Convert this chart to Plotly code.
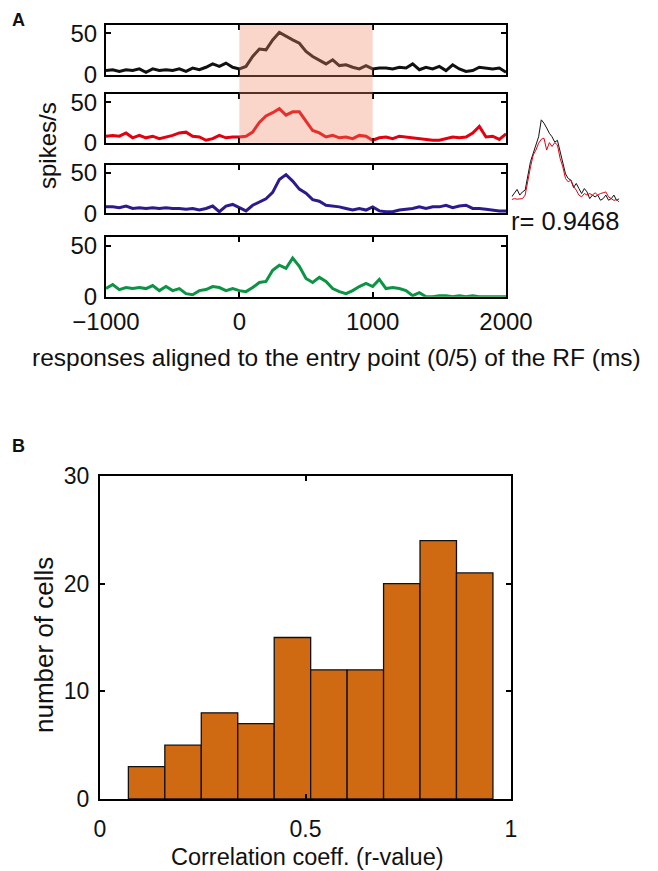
import plotly.graph_objects as go

# ---------------- data ----------------
time_ms = list(range(-1000, 2001, 50))

rate_black = [5, 6, 4, 6, 5, 7, 3, 7, 5, 6, 5, 7, 4, 8, 6, 9, 13, 10, 14, 9,
              7, 10, 22, 31, 30, 42, 51, 46, 42, 38, 28, 22, 17, 13, 18, 11, 12, 9, 7, 11,
              7, 8, 8, 7, 9, 8, 13, 6, 9, 7, 10, 5, 12, 7, 4, 5, 9, 8, 7, 8, 3]
rate_red = [8, 9, 8, 12, 6, 9, 6, 8, 5, 7, 9, 12, 13, 8, 7, 3, 5, 9, 6, 7,
            7, 8, 13, 25, 33, 37, 42, 34, 38, 38, 26, 15, 12, 7, 9, 6, 7, 5, 9, 8,
            3, 6, 7, 5, 8, 7, 6, 5, 4, 3, 3, 5, 7, 6, 7, 12, 20, 7, 8, 4, 11]
rate_blue = [8, 8, 7, 9, 6, 7, 6, 7, 6, 7, 6, 6, 5, 6, 4, 6, 9, 2, 9, 11,
             7, 3, 10, 14, 18, 26, 42, 48, 40, 30, 25, 17, 15, 10, 9, 8, 6, 4, 6, 4,
             8, 3, 2, 2, 4, 5, 6, 8, 6, 8, 8, 10, 7, 9, 10, 6, 6, 5, 4, 3, 3]
rate_green = [8, 12, 7, 9, 8, 9, 8, 11, 6, 10, 6, 8, 3, 2, 6, 7, 10, 9, 6, 8,
              6, 5, 9, 14, 15, 26, 31, 28, 38, 30, 18, 14, 19, 15, 8, 5, 3, 6, 10, 13,
              10, 17, 8, 9, 8, 6, 1, 4, 0, 0, 1, 1, 0, 1, 0, 1, 0, 0, 0, 0, 0]

inset_time = list(range(0, 1001, 25))
inset_black = [8, 9.9, 12.2, 9, 10.8, 11.8, 21, 28, 32.7, 37.4, 42, 51.6, 49.7, 47, 44, 42,
               39, 40, 33.6, 28, 21, 18.4, 17.5, 13.3, 15.6, 12.7, 9.9, 12.7, 10.8, 7, 9,
               8, 9, 6.1, 7, 9, 6.1, 7, 9, 6, 7]
inset_red = [6.5, 7, 6.7, 7, 7, 9, 17.5, 25, 31.7, 34.5, 38.4, 40.6, 41.2, 34.5, 38.7, 36.5,
             38.7, 37.4, 29.8, 25, 18.4, 16.5, 17.5, 14, 11.8, 9, 8, 9.9, 9, 9.9, 9,
             10.3, 9, 9.9, 10.3, 10.8, 8, 7, 6, 6.5, 5]
r_value_text = "r= 0.9468"

bin_centers = [0.1134, 0.2021, 0.2908, 0.3795, 0.4682, 0.5569, 0.6456, 0.7343, 0.8230, 0.9117]
bin_width = 0.0887
cell_counts = [3, 5, 8, 7, 15, 12, 12, 20, 24, 21]

x_ticks_A = [-1000, 0, 1000, 2000]
y_ticks_A = [0, 50]
x_ticks_B = [0, 0.5, 1]
y_ticks_B = [0, 10, 20, 30]

# ---------------- layout helpers ----------------
OFF = 8                      # page body margin of the browser
W, H = 658 - OFF, 871 - OFF  # figure size
FONT = "Arial, Liberation Sans, sans-serif"


def px(x):
    return (x - OFF) / W


def py(y):
    return 1 - (y - OFF) / H


def xd(a, b):
    return [px(a), px(b)]


def yd(top, bottom):
    return [py(bottom), py(top)]


fig = go.Figure()

series = [(rate_black, "#111111"), (rate_red, "#E3000F"),
          (rate_blue, "#2B1B8C"), (rate_green, "#0B9444")]
ydoms = [yd(25, 74.7), yd(94, 142.7), yd(165, 213.3), yd(237.3, 296.7)]
yranges = [[0, 60], [0, 60], [0, 60], [0, 58.5]]

axis_common = dict(showline=True, linecolor="black", linewidth=2, mirror="allticks",
                   ticks="inside", ticklen=5, tickwidth=1.5, tickcolor="black",
                   showgrid=False, zeroline=False, automargin=False,
                   tickfont=dict(family=FONT, size=24, color="#111"))

for i, (vals, col) in enumerate(series):
    n = i + 1
    fig.add_trace(go.Scatter(x=time_ms, y=vals, mode="lines",
                             line=dict(color=col, width=3), showlegend=False,
                             xaxis=f"x{n}" if n > 1 else "x", yaxis=f"y{n}" if n > 1 else "y"))
    xa = dict(axis_common, domain=xd(106, 506), range=[-1000, 2000], tickvals=x_ticks_A,
              showticklabels=(n == 4), anchor=f"y{n}" if n > 1 else "y", ticklabelstandoff=2)
    ya = dict(axis_common, domain=ydoms[i], range=yranges[i], tickvals=y_ticks_A,
              anchor=f"x{n}" if n > 1 else "x", ticklabelstandoff=2)
    fig.update_layout(**{("xaxis" if n == 1 else f"xaxis{n}"): xa,
                         ("yaxis" if n == 1 else f"yaxis{n}"): ya})

# inset
fig.add_trace(go.Scatter(x=inset_time, y=inset_black, mode="lines",
                         line=dict(color="#111111", width=1), showlegend=False,
                         xaxis="x5", yaxis="y5"))
fig.add_trace(go.Scatter(x=inset_time, y=inset_red, mode="lines",
                         line=dict(color="#E3000F", width=1), showlegend=False,
                         xaxis="x5", yaxis="y5"))
fig.update_layout(
    xaxis5=dict(domain=xd(511.7, 619.3), range=[0, 1000], visible=False, anchor="y5",
                automargin=False),
    yaxis5=dict(domain=yd(105, 211), range=[0, 60], visible=False, anchor="x5",
                automargin=False),
)

# histogram panel B
fig.add_trace(go.Bar(x=bin_centers, y=cell_counts, width=bin_width,
                     marker=dict(color="#CF6A13", line=dict(color="#111111", width=1.3)),
                     showlegend=False, xaxis="x6", yaxis="y6"))
axis_B = dict(axis_common, tickfont=dict(family=FONT, size=23, color="#111"))
fig.update_layout(
    xaxis6=dict(axis_B, domain=xd(100, 511), range=[0, 1], tickvals=x_ticks_B,
                ticktext=["0", "0.5", "1"], anchor="y6", ticklabelstandoff=8),
    yaxis6=dict(axis_B, domain=yd(476, 799), range=[0, 30], tickvals=y_ticks_B,
                anchor="x6", ticklabelstandoff=4),
)

# shaded window over first two panels
fig.add_shape(type="rect", xref="x", yref="paper", x0=0, x1=1000,
              y0=py(142.7), y1=py(25),
              fillcolor="rgba(240,135,100,0.35)", line=dict(width=0), layer="above")


def ann(text, x, y, size, bold=False, angle=0):
    fig.add_annotation(text=f"<b>{text}</b>" if bold else text, x=px(x), y=py(y),
                       xref="paper", yref="paper", showarrow=False, textangle=angle,
                       xanchor="center", yanchor="middle",
                       font=dict(family=FONT, size=size, color="#111"))


ann("A", 18.5, 20, 18, bold=True)
ann("B", 18.5, 446, 18, bold=True)
ann("spikes/s", 47, 146, 24, angle=-90)
ann(r_value_text, 565, 221, 25.5)
ann("responses aligned to the entry point (0/5) of the RF (ms)", 336, 357, 24.5)
ann("number of cells", 44, 645, 26, angle=-90)
ann("Correlation coeff. (r-value)", 307, 857, 23.5)

fig.update_layout(width=W, height=H, margin=dict(l=0, r=0, t=0, b=0),
                  paper_bgcolor="white", plot_bgcolor="white",
                  font=dict(family=FONT, color="#111"))

fig.write_html("out.html")
